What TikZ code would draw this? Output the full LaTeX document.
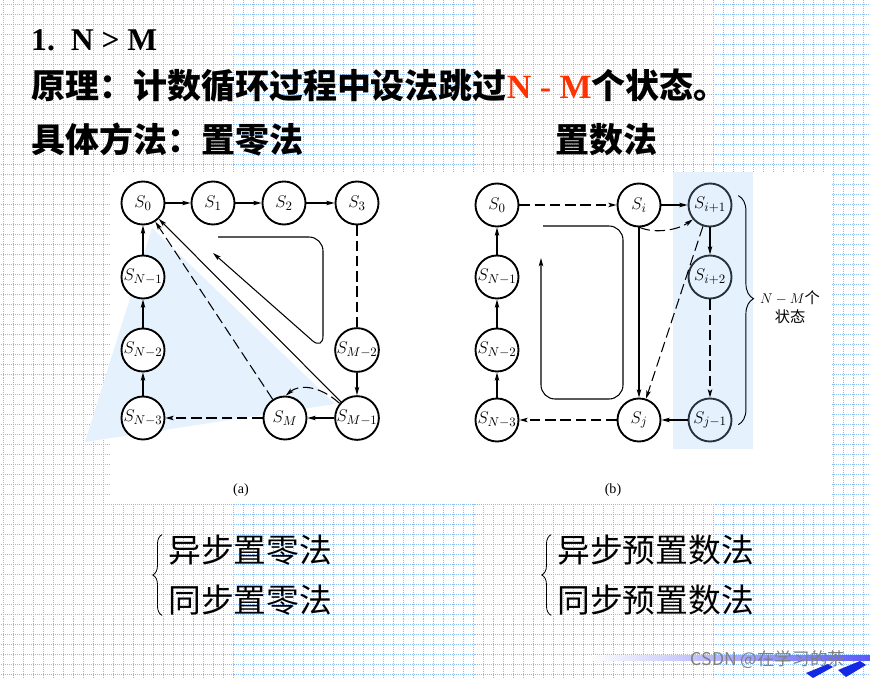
\documentclass[tikz,border=0pt]{standalone}
\usepackage{fontspec}
\usepackage{amsmath}
\newfontfamily\cjk{Noto Sans CJK SC}
\newfontfamily\timesfont{Liberation Serif}
\usetikzlibrary{arrows.meta, decorations.pathreplacing}

\definecolor{gridblue}{RGB}{140,190,245}
\definecolor{paleblue}{RGB}{229,241,253}
\definecolor{titlered}{RGB}{255,51,0}
\definecolor{barblue}{RGB}{90,90,250}
\definecolor{logoblue}{RGB}{20,40,230}
\definecolor{edgegray}{RGB}{40,50,60}

\begin{document}
\begin{tikzpicture}[
          x=0.03cm, y=-0.03cm,
          state/.style={circle, draw, line width=1.6pt, fill=white, minimum size=1.29cm,
            inner sep=0pt, font=\fontsize{15}{17}\selectfont},
          shaded/.style={state, fill=none, draw=edgegray},
          arrow/.style={-{Stealth[length=7pt, width=3.8pt, inset=1.5pt]}, line width=0.9pt},
          dasharrow/.style={arrow, dash pattern=on 9pt off 4pt},
          dashline/.style={line width=0.9pt, dash pattern=on 9pt off 4pt},
          cyclearrow/.style={arrow, rounded corners=12pt},
          headline/.style={anchor=west, inner sep=0pt, font=\cjk\bfseries\fontsize{29}{34}\selectfont},
          listtext/.style={anchor=west, inner sep=0pt, font=\cjk\fontsize{28}{33}\selectfont},
          listbrace/.style={decorate, decoration={brace, amplitude=8pt}, line width=0.7pt},
          statebrace/.style={decorate, decoration={brace, amplitude=13pt, aspect=0.45}, line width=0.8pt},
          figlabel/.style={font=\timesfont\fontsize{12}{14}\selectfont},
          gridline/.style={gridblue, densely dotted, line width=0.7pt}
        ]
          \useasboundingbox (0,0) rectangle (870,678);

          % slide background
          \begin{scope}
            \clip (0,0) rectangle (870,678);
            \draw[gridline, shift={(3.5,4)}, step=0.3cm] (-10,-10) grid (880,690);
          \end{scope}
          \fill[white] (110,172) rectangle (832,503);
          \fill[paleblue] (85,442) -- (152,228) -- (335,404) -- cycle;
          \fill[paleblue] (673,172) rectangle (753,449);

          % headings
          \node[headline, font=\timesfont\bfseries\fontsize{27}{32}\selectfont] (t1) at (31,40) {1.~~N > M};
          \node[headline] (t2) at (31,86) {原理：计数循环过程中设法跳过{\timesfont\color{titlered}N - M}个状态。};
          \node[headline] (t3) at (31,140) {具体方法：置零法};
          \node[headline] (t4) at (555,140) {置数法};

          % (a) reset to zero
          \node[state] (a0) at (143,203) {$S_0$};
          \node[state] (a1) at (213,203) {$S_1$};
          \node[state] (a2) at (284,203) {$S_2$};
          \node[state] (a3) at (357,203) {$S_3$};
          \node[state] (am2) at (357,350) {$S_{M-2}$};
          \node[state] (am1) at (357,418) {$S_{M-1}$};
          \node[state] (am) at (285,418) {$S_M$};
          \node[state] (an3) at (143,418) {$S_{N-3}$};
          \node[state] (an2) at (143,350) {$S_{N-2}$};
          \node[state] (an1) at (143,277) {$S_{N-1}$};

          \draw[arrow] (a0) -- (a1);
          \draw[arrow] (a1) -- (a2);
          \draw[arrow] (a2) -- (a3);
          \draw[dashline] (a3) -- (am2);
          \draw[arrow] (am2) -- (am1);
          \draw[arrow] (am1) -- (am);
          \draw[dasharrow] (am) -- (an3);
          \draw[arrow] (an3) -- (an2);
          \draw[arrow] (an2) -- (an1);
          \draw[arrow] (an1) -- (a0);
          \draw[arrow] (am1) -- (a0);
          \draw[dasharrow] (am) -- (a0);
          \draw[dasharrow] (am1.140) .. controls (318,384) and (298,385) .. (am.88);
          \draw[cyclearrow] (218,237) -- (323,237) -- (323,350) -- (213,253);
          \node[figlabel] (capa) at (241,490) {(a)};

          % (b) preset
          \node[state] (b0) at (497,205) {$S_0$};
          \node[state] (bi) at (639,205) {$S_i$};
          \node[shaded] (bi1) at (710,205) {$S_{i+1}$};
          \node[shaded] (bi2) at (710,277) {$S_{i+2}$};
          \node[shaded] (bj1) at (710,420) {$S_{j-1}$};
          \node[state] (bj) at (639,420) {$S_j$};
          \node[state] (bn3) at (497,420) {$S_{N-3}$};
          \node[state] (bn2) at (497,350) {$S_{N-2}$};
          \node[state] (bn1) at (497,277) {$S_{N-1}$};

          \draw[arrow] (bn1) -- (b0);
          \draw[dasharrow] (b0) -- (bi);
          \draw[arrow] (bi) -- (bi1);
          \draw[dasharrow] (bi.-88) .. controls (655,234) and (678,230) .. (bi1.-140);
          \draw[arrow] (bi1) -- (bi2);
          \draw[dasharrow] (bi2) -- (bj1);
          \draw[arrow] (bj1) -- (bj);
          \draw[dasharrow] (bj) -- (bn3);
          \draw[arrow] (bn3) -- (bn2);
          \draw[arrow] (bn2) -- (bn1);
          \draw[arrow] (bi) -- (bj);
          \draw[dasharrow] (bi1) -- (bj);
          \draw[cyclearrow] (543,226) -- (623,226) -- (623,399) -- (541,399) -- (541,258);
          \draw[statebrace] ([xshift=5pt, yshift=8pt]bi1.east) -- ([xshift=5pt, yshift=-4pt]bj1.east);
          \node[align=center, font=\cjk\fontsize{13}{16}\selectfont] (nm) at (790,307) {$N-M$个\\状态};
          \node[figlabel] (capb) at (613,490) {(b)};

          % methods
          \node[listtext] (la1) at (168,550) {异步置零法};
          \node[listtext] (la2) at (168,600) {同步置零法};
          \draw[listbrace] ([xshift=-5pt]la2.south west) -- ([xshift=-5pt]la1.north west);
          \node[listtext] (lb1) at (557,550) {异步预置数法};
          \node[listtext] (lb2) at (557,600) {同步预置数法};
          \draw[listbrace] ([xshift=-5pt]lb2.south west) -- ([xshift=-5pt]lb1.north west);

          % footer
          \shade[left color=white, right color=barblue] (590,655) rectangle (870,660);
          \fill[logoblue] (806,673) -- (828,664) -- (833,667) -- (813,678) -- cycle;
          \fill[logoblue] (838,670) -- (860,661) -- (866,665) -- (846,677) -- cycle;
          \node[font=\cjk\fontsize{15}{17}\selectfont, text=gray] (wm) at (768,660) {CSDN @在学习的茶};
\end{tikzpicture}
\end{document}
